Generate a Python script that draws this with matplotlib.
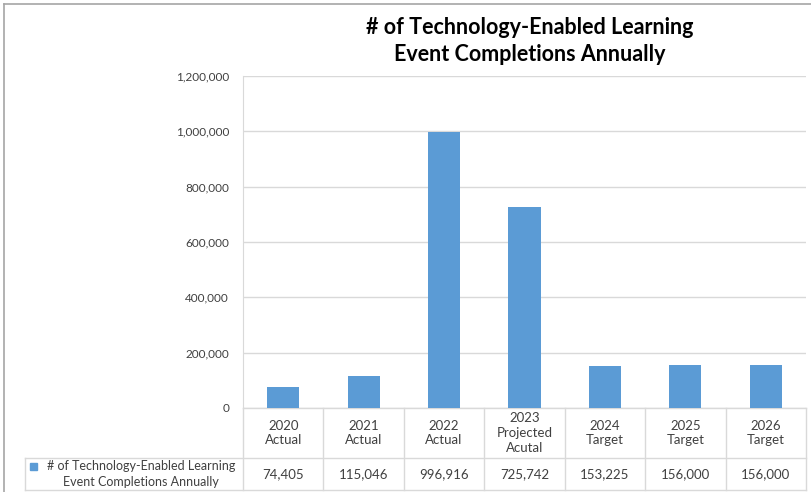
import numpy as np
import matplotlib.pyplot as plt
from matplotlib.transforms import blended_transform_factory

categories = ["2020\nActual", "2021\nActual", "2022\nActual", "2023\nProjected\nAcutal",
              "2024\nTarget", "2025\nTarget", "2026\nTarget"]
values = [74405, 115046, 996916, 725742, 153225, 156000, 156000]
series_name = "# of Technology-Enabled Learning\nEvent Completions Annually"
title = "# of Technology-Enabled Learning\nEvent Completions Annually"
yticks = [0, 200000, 400000, 600000, 800000, 1000000, 1200000]

plt.rcParams['font.family'] = ['Lato', 'DejaVu Sans']

W, H = 811, 492
BLUE = "#5B9BD5"
GRID = "#D9D9D9"
TXT = "#404040"


def fx(px):
    return px / W


def fy(py):
    return 1 - py / H


fig = plt.figure(figsize=(W / 100, H / 100), dpi=100)

# outer chart frame
fig.add_artist(plt.Line2D([fx(4), fx(4)], [fy(4), fy(492)], color="#A6A6A6", lw=1.2))
fig.add_artist(plt.Line2D([fx(4), fx(811)], [fy(4), fy(4)], color="#A6A6A6", lw=1.2))

left, right, top, bottom = 243, 806, 76, 408
ax = fig.add_axes([fx(left), fy(bottom), fx(right) - fx(left), fy(top) - fy(bottom)])

x = np.arange(len(values))
ax.bar(x, values, width=0.4, color=BLUE, zorder=3)
ax.set_xlim(-0.5, len(values) - 0.5)
ax.set_ylim(0, 1200000)
ax.set_yticks(yticks)
ax.set_yticklabels([f"{v:,}" for v in yticks], fontsize=8.5, color=TXT)
ax.tick_params(axis='y', length=0, pad=10)
ax.set_xticks([])
ax.grid(axis='y', color=GRID, lw=1, zorder=0)
for s in ["top", "right", "bottom"]:
    ax.spines[s].set_visible(False)
ax.spines["left"].set_color(GRID)

fig.text(0.5 * (fx(left) + fx(right)) + fx(5), fy(41), title, ha='center', va='center',
         fontsize=15.5, fontweight='bold', color="black", linespacing=1.3)

# data table below the plot
tr = blended_transform_factory(ax.transData, fig.transFigure)
edges = np.arange(len(values) + 1) - 0.5
row1_top, row1_bot, row2_bot = fy(408), fy(458), fy(490)
for e in edges:
    ax.add_line(plt.Line2D([e, e], [row1_top, row2_bot], transform=tr, color=GRID,
                           lw=1, clip_on=False))
ax.add_line(plt.Line2D([edges[0], edges[-1]], [row1_top, row1_top], transform=tr,
                       color=GRID, lw=1, clip_on=False))
for yy in [row1_bot, row2_bot]:
    fig.add_artist(plt.Line2D([fx(25), fx(right)], [yy, yy], color=GRID, lw=1))
fig.add_artist(plt.Line2D([fx(25), fx(25)], [row1_bot, row2_bot], color=GRID, lw=1))

for i, (c, v) in enumerate(zip(categories, values)):
    ax.text(i, 0.5 * (row1_top + row1_bot), c, transform=tr, ha='center', va='center',
            fontsize=9.5, color=TXT, linespacing=1.3)
    ax.text(i, 0.5 * (row1_bot + row2_bot), f"{v:,}", transform=tr, ha='center',
            va='center', fontsize=9.5, color=TXT)

fig.patches.append(plt.Rectangle((fx(30), fy(470)), fx(7), 7 / H, color=BLUE,
                                 transform=fig.transFigure))
fig.text(fx(141), 0.5 * (row1_bot + row2_bot), series_name, ha='center', va='center',
         fontsize=9, color=TXT, linespacing=1.3)

fig.savefig("out.png", dpi=100)
